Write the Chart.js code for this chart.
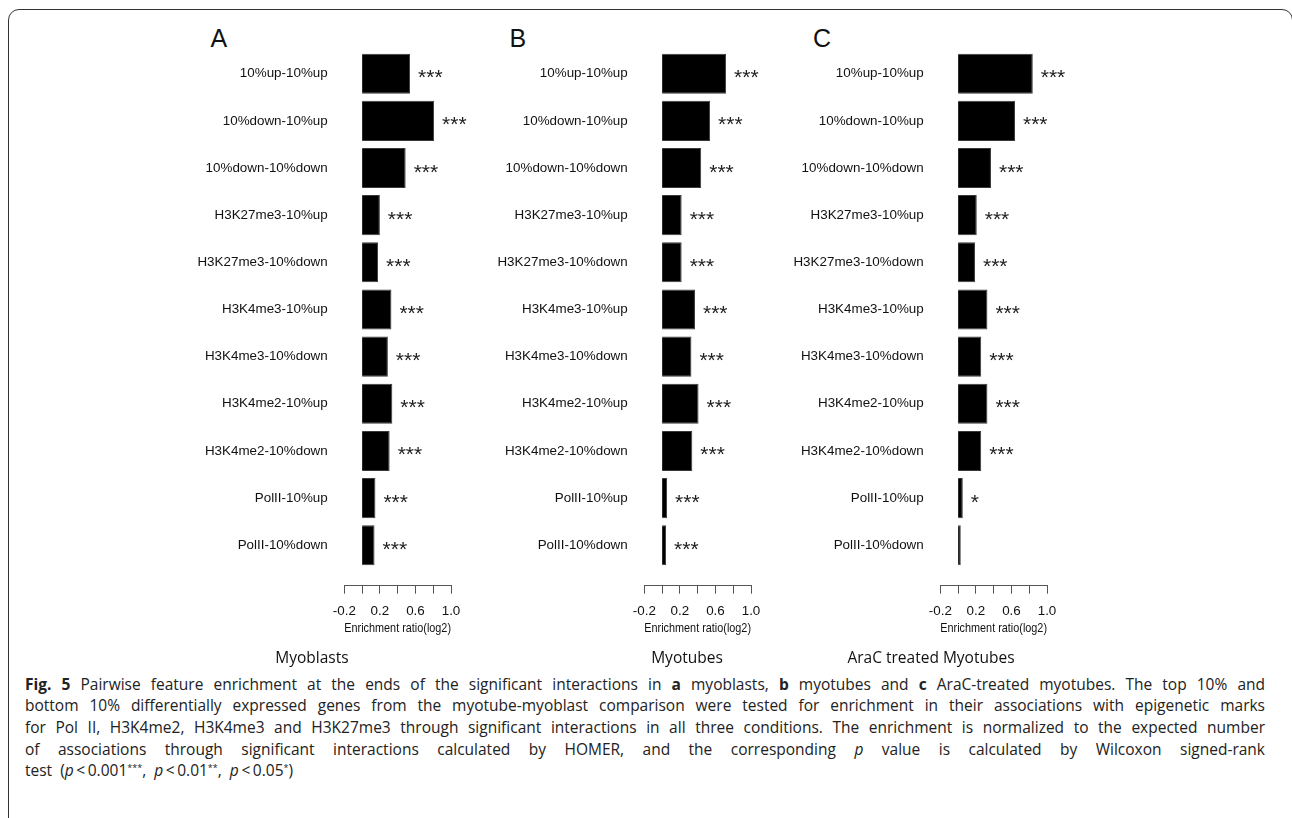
<!DOCTYPE html>
<html>
<head>
<meta charset="utf-8">
<script src="https://cdn.jsdelivr.net/npm/chart.js@4/dist/chart.umd.min.js"></script>
<style>
  html, body { margin: 0; padding: 0; background: #fff; }
  body { width: 1292px; height: 818px; overflow: hidden; position: relative; }
  #frame { position: absolute; left: 8px; top: 9px; width: 1285px; height: 900px;
           border: 1.5px solid #333; border-radius: 11px; box-sizing: border-box; }
  .chartbox { position: absolute; top: 0; width: 520px; height: 650px; }
  .letter { position: absolute; top: 25.5px; font: 25px/25px "Liberation Sans", Arial, sans-serif; color: #111; }
  .ptitle { position: absolute; top: 647px; font: 15.5px/20px "Open Sans", "Noto Sans", sans-serif; color: #111;
            transform: translateX(-50%); white-space: nowrap; }
  #caption { position: absolute; left: 25px; top: 673.5px; width: 1240px;
             font: 15.5px/21.7px "Open Sans", "Noto Sans", sans-serif; color: #222; }
  #caption .ln { text-align: justify; text-align-last: justify; }
  #caption sup { font-size: 9px; vertical-align: 5px; line-height: 0; }
  #caption b { font-weight: 700; }
</style>
</head>
<body>
<div id="frame"></div>

<div class="letter" style="left:210.5px">A</div>
<div class="letter" style="left:509.5px">B</div>
<div class="letter" style="left:813px">C</div>

<div class="chartbox" style="left:0px"><canvas id="cA" width="520" height="650"></canvas></div>
<div class="chartbox" style="left:299.7px"><canvas id="cB" width="520" height="650"></canvas></div>
<div class="chartbox" style="left:595.7px"><canvas id="cC" width="520" height="650"></canvas></div>

<div class="ptitle" style="left:312px">Myoblasts</div>
<div class="ptitle" style="left:687px">Myotubes</div>
<div class="ptitle" style="left:931px">AraC treated Myotubes</div>

<div id="caption">
<div class="ln"><b>Fig. 5</b> Pairwise feature enrichment at the ends of the significant interactions in <b>a</b> myoblasts, <b>b</b> myotubes and <b>c</b> AraC-treated myotubes. The top 10% and</div>
<div class="ln">bottom 10% differentially expressed genes from the myotube-myoblast comparison were tested for enrichment in their associations with epigenetic marks</div>
<div class="ln">for Pol II, H3K4me2, H3K4me3 and H3K27me3 through significant interactions in all three conditions. The enrichment is normalized to the expected number</div>
<div class="ln">of associations through significant interactions calculated by HOMER, and the corresponding <i>p</i> value is calculated by Wilcoxon signed-rank</div>
<div>test&nbsp; (<i>p</i>&thinsp;&lt;&thinsp;0.001<sup>***</sup>, &nbsp;<i>p</i>&thinsp;&lt;&thinsp;0.01<sup>**</sup>, &nbsp;<i>p</i>&thinsp;&lt;&thinsp;0.05<sup>*</sup>)</div>
</div>

<script>
// ---- data ----
const categories = [
  '10%up-10%up', '10%down-10%up', '10%down-10%down',
  'H3K27me3-10%up', 'H3K27me3-10%down',
  'H3K4me3-10%up', 'H3K4me3-10%down',
  'H3K4me2-10%up', 'H3K4me2-10%down',
  'PolII-10%up', 'PolII-10%down'
];
const myoblasts = [0.54, 0.81, 0.49, 0.20, 0.18, 0.33, 0.29, 0.34, 0.31, 0.15, 0.14];
const myotubes  = [0.72, 0.54, 0.44, 0.22, 0.22, 0.37, 0.33, 0.41, 0.34, 0.056, 0.045];
const araC      = [0.84, 0.64, 0.37, 0.21, 0.19, 0.33, 0.26, 0.33, 0.26, 0.053, 0.03];
const sigMyoblasts = ['***','***','***','***','***','***','***','***','***','***','***'];
const sigMyotubes  = ['***','***','***','***','***','***','***','***','***','***','***'];
const sigAraC      = ['***','***','***','***','***','***','***','***','***','*',''];
const xTickLabels = ['-0.2', '0.2', '0.6', '1.0'];
const xMin = -0.2, xMax = 1.0, xStep = 0.2;
const xTitle = 'Enrichment ratio(log2)';

// ---- significance labels plugin ----
const sigPlugin = {
  id: 'sig',
  afterDatasetsDraw(chart, args, opts) {
    const ctx = chart.ctx;
    const meta = chart.getDatasetMeta(0);
    ctx.save();
    ctx.font = '21px "Liberation Sans", Arial, sans-serif';
    ctx.fillStyle = '#222';
    ctx.textAlign = 'left';
    ctx.textBaseline = 'alphabetic';
    meta.data.forEach((bar, i) => {
      const s = opts.labels[i];
      if (!s) return;
      ctx.fillText(s, bar.x + 8, bar.y + 10.5);
    });
    ctx.restore();
  }
};

const FONT = '"Liberation Sans", Arial, sans-serif';

function makeChart(id, values, sigs) {
  new Chart(document.getElementById(id), {
    type: 'bar',
    data: {
      datasets: [{
        data: values.map((v, i) => ({ x: v, y: i })),
        backgroundColor: '#000',
        borderColor: '#3a3a3a',
        borderWidth: 1,
        barPercentage: 0.85,
        categoryPercentage: 1.0
      }]
    },
    options: {
      indexAxis: 'y',
      responsive: false,
      animation: false,
      layout: { padding: { top: 50.1, left: 0, right: 69, bottom: 0 } },
      plugins: {
        legend: { display: false },
        tooltip: { enabled: false },
        sig: { labels: sigs }
      },
      scales: {
        y: {
          type: 'linear',
          reverse: true,
          min: -0.5,
          max: 10.857,
          offset: false,
          grid: { display: false, drawTicks: false, offset: false },
          border: { display: false },
          afterBuildTicks: (scale) => { scale.ticks = categories.map((c, i) => ({ value: i })); },
          afterFit: (scale) => { scale.width = 344.3; },
          ticks: {
            autoSkip: false,
            padding: 16.6,
            color: '#111',
            font: { family: FONT, size: 13.4 },
            callback: (v) => categories[v]
          }
        },
        x: {
          type: 'linear',
          min: xMin,
          max: xMax,
          grid: { drawOnChartArea: false, drawTicks: true, tickLength: 8, color: '#555', lineWidth: 1 },
          border: { display: true, color: '#555', width: 1 },
          afterFit: (scale) => { scale.height = 64.3; },
          ticks: {
            stepSize: xStep,
            autoSkip: false,
            maxRotation: 0,
            padding: 10,
            color: '#111',
            font: { family: FONT, size: 13.4 },
            callback: (v) => { const s = v.toFixed(1); return xTickLabels.includes(s) ? s : ''; }
          },
          title: {
            display: true,
            text: xTitle,
            color: '#111',
            font: { family: FONT, size: 13.4 },
            padding: { top: 0, bottom: 13.7 }
          }
        }
      }
    },
    plugins: [sigPlugin]
  });
}

makeChart('cA', myoblasts, sigMyoblasts);
makeChart('cB', myotubes, sigMyotubes);
makeChart('cC', araC, sigAraC);
</script>
</body>
</html>
